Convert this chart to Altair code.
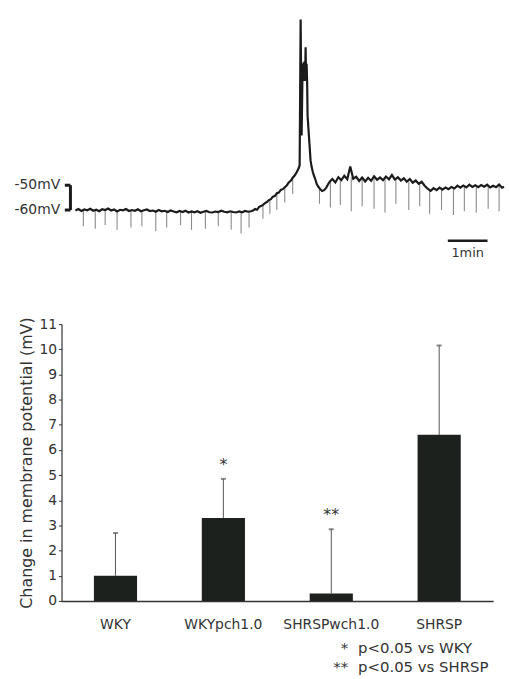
import altair as alt
import pandas as pd

# ---------------- recording trace (time in s, membrane potential in mV) ----------------
base_t = [0, 4.5, 9, 13.5, 18, 22.5, 27, 31.5, 36, 40.5, 45, 49.5, 54, 58.5, 63, 67.5, 72, 76.5, 81, 85.5,
          90, 94.5, 99, 103.5, 108, 112.5, 117, 121.5, 126, 130.5, 135, 139.5, 144, 148.5, 153, 157.5, 162,
          166.5, 171, 175.5, 180, 184.5, 189, 193.5, 198, 202.5, 207, 211.5, 216, 220.5, 225, 229.5, 234,
          238.5, 243, 247.5, 252, 256.5, 261, 265.5]
base_mv = [-60.2, -59.6, -60.4, -59.8, -60.1, -59.5, -60.3, -59.9, -60.5, -59.7,
           -60.0, -59.4, -60.2, -59.8, -60.6, -59.9, -60.1, -59.6, -60.4, -60.0,
           -60.3, -59.7, -60.5, -60.1, -59.8, -60.4, -60.2, -60.7, -60.0, -60.5,
           -60.3, -60.8, -60.2, -60.6, -60.9, -60.4, -60.8, -60.3, -61.0, -60.6,
           -60.9, -60.5, -61.1, -60.7, -60.4, -60.9, -61.0, -60.6, -60.8, -60.3,
           -60.7, -60.9, -60.5, -60.8, -61.0, -60.6, -60.9, -60.4, -60.7, -60.5]
rise_t = [268.5, 271.5, 274.5, 277.5, 280.5, 283.5, 286.5, 289.5, 292.5, 295.5, 298.5, 301.5, 304.5,
          307.5, 310.5, 313.5, 316.5, 319.5, 322.5, 325.5, 328.5, 331.5, 334.5, 337.5, 339]
rise_mv = [-60.2, -59.6, -59.9, -58.8, -58.4, -57.9, -57.2, -56.8, -56.0, -55.6, -54.6, -54.4, -53.2,
           -53.0, -51.9, -51.6, -50.8, -50.1, -48.9, -48.2, -47.0, -46.1, -44.8, -43.2, -42.0]
spike_t = [340.5, 342, 343.5, 344.3, 345, 345.8, 346.5, 347.3, 348, 348.8, 349.5, 350.3, 351, 352.5,
           354, 355.5, 357, 359, 361, 363, 365, 367, 369, 371, 373, 376, 379, 382, 385]
spike_mv = [16.8, -30, -1, -8, -0.5, -7.5, 0, -8, 5.6, -7, -1, -8, -22, -28,
            -34, -40, -42.5, -44.8, -46.4, -47.9, -49.6, -50.5, -51.2, -51.8, -52.3, -52.0, -51.1, -49.6, -48.4]
after_t = [388.5, 393, 397.5, 402, 406.5, 411, 415.5, 420, 424.5, 429, 433.5, 438, 442.5, 447, 451.5,
           456, 460.5, 465, 469.5, 474, 478.5, 483, 487.5, 492, 496.5, 501, 505.5, 510, 514.5, 519,
           523.5, 528, 532.5, 537, 541.5, 546, 550.5, 555, 559.5, 564, 568.5, 573, 577.5, 582, 586.5,
           591, 595.5, 600, 604.5, 609, 613.5, 618, 622.5, 627, 631.5, 636, 640.5, 645, 648]
after_mv = [-47.5, -48.9, -46.8, -47.9, -46.2, -47.6, -42.5, -47.4, -46.6, -48.3,
            -46.9, -48.5, -47.0, -48.2, -46.4, -47.8, -46.9, -48.0, -46.5, -47.6,
            -45.9, -47.7, -46.8, -48.1, -47.2, -48.6, -47.5, -49.0, -48.1, -49.4,
            -48.6, -50.2, -51.4, -52.3, -51.2, -52.0, -51.0, -51.8, -50.9, -51.6,
            -50.7, -51.3, -50.2, -51.0, -50.1, -50.9, -49.8, -50.7, -50.0, -50.8,
            -49.9, -50.6, -49.8, -50.9, -50.2, -50.8, -49.7, -51.0, -50.6]

# hyperpolarising test pulses (downward deflections)
pulse_t = [12, 30, 45, 63, 84, 100.5, 121.5, 138, 159, 175.5, 196.5, 216, 235.5, 250.5, 262.5,
           283.5, 294, 304.5, 316.5, 328.5,
           369, 385.5, 400.5, 417, 433.5, 451.5, 468, 484.5, 504, 520.5, 535.5, 553.5, 571.5, 588,
           606, 624, 640.5]
pulse_top = [-60, -60, -60, -60, -60, -60, -60, -60.2, -60.5, -60.5, -60.6, -60.8, -60.8, -60.6, -60.6,
             -57.9, -55.8, -53.2, -50.8, -47.0,
             -51.5, -48.2, -47.5, -46.8, -47.0, -47.2, -47.0, -47.4, -48.5, -49.2, -52.0, -51.2, -51.0,
             -50.5, -50.4, -50.3, -50.0]
pulse_bottom = [-66.5, -67.5, -66, -68, -67, -66.5, -68.5, -67, -66, -68, -67.5, -66.5, -68, -69.5, -67,
                -63.5, -61.5, -60, -57, -53.5,
                -57.5, -59, -58, -60.5, -58.5, -59.5, -61, -57.5, -60, -58.5, -61.5, -60, -62, -60.5,
                -61, -59.5, -60.5]

# scale bars
volt_bar_mv = [-50, -60]
volt_bar_labels = ["-50mV", "-60mV"]
volt_bar_t = -7.5
volt_bar_tick_t = -16
time_bar_start = 563
time_bar_end = 623
time_bar_mv = -72.4
time_bar_label = "1min"

# ---------------- bar chart ----------------
groups = ["WKY", "WKYpch1.0", "SHRSPwch1.0", "SHRSP"]
means = [1.0, 3.3, 0.3, 6.6]
err_top = [2.7, 4.85, 2.85, 10.15]
sig = ["", "*", "**", ""]
y_ticks = [0, 1, 2, 3, 4, 5, 6, 7, 8, 9, 10, 11]
note_stars = ["*", "**"]
note_texts = ["p<0.05 vs WKY", "p<0.05 vs SHRSP"]

FONT = "DejaVu Sans"
TXT = "#333333"

trace_df = pd.DataFrame({"t": base_t + rise_t + spike_t + after_t,
                         "mv": base_mv + rise_mv + spike_mv + after_mv})
pulse_df = pd.DataFrame({"t": pulse_t, "top": pulse_top, "bottom": pulse_bottom})
vb_df = pd.DataFrame({"mv": volt_bar_mv, "label": volt_bar_labels})

xs = alt.Scale(domain=[-21, 649.5], nice=False, zero=False)
ys = alt.Scale(domain=[-74, 18], nice=False, zero=False)

pulses = alt.Chart(pulse_df).mark_rule(color="#8a8a8a", strokeWidth=1.1).encode(
    x=alt.X("t:Q", scale=xs, axis=None),
    y=alt.Y("top:Q", scale=ys, axis=None),
    y2="bottom:Q",
)
trace = alt.Chart(trace_df).mark_line(color="#1b1b1b", strokeWidth=2.2).encode(
    x=alt.X("t:Q", scale=xs, axis=None),
    y=alt.Y("mv:Q", scale=ys, axis=None),
)
vbar = alt.Chart(pd.DataFrame({"a": [volt_bar_mv[0]], "b": [volt_bar_mv[1]]})).mark_rule(
    color="#1b1b1b", strokeWidth=3).encode(
    x=alt.datum(volt_bar_t), y=alt.Y("a:Q"), y2="b:Q")
vticks = alt.Chart(vb_df).mark_rule(color="#1b1b1b", strokeWidth=3).encode(
    x=alt.datum(volt_bar_tick_t), x2=alt.datum(volt_bar_t), y="mv:Q")
vlabels = alt.Chart(vb_df).mark_text(align="right", baseline="middle", font=FONT, fontSize=14,
                                     color=TXT).encode(
    x=alt.datum(-23), y="mv:Q", text="label:N")
tbar = alt.Chart(pd.DataFrame({"a": [time_bar_start], "b": [time_bar_end], "y": [time_bar_mv]})).mark_rule(
    color="#1b1b1b", strokeWidth=2.5).encode(x="a:Q", x2="b:Q", y="y:Q")
tlabel = alt.Chart(pd.DataFrame({"t": [(time_bar_start + time_bar_end) / 2], "y": [time_bar_mv],
                                 "label": [time_bar_label]})).mark_text(
    baseline="top", dy=6, font=FONT, fontSize=13, color=TXT).encode(x="t:Q", y="y:Q", text="label:N")

top = alt.layer(pulses, trace, vbar, vticks, vlabels, tbar, tlabel).properties(width=447, height=230)

bar_df = pd.DataFrame({"group": groups, "mean": means, "err": err_top, "sig": sig})
yscale = alt.Scale(domain=[0, 11], nice=False)
xscale = alt.Scale(paddingInner=0.6, paddingOuter=0.3)
xaxis = alt.Axis(title=None, labelAngle=0, ticks=False, domainColor=TXT, domainWidth=1.4,
                 labelFont=FONT, labelFontSize=14, labelColor=TXT, labelPadding=17)
yaxis = alt.Axis(values=y_ticks, title="Change in membrane potential (mV)",
                 grid=False, labelOverlap=False, labelFont=FONT, labelFontSize=14,
                 labelColor=TXT, labelPadding=2, tickSize=3, tickColor=TXT, domainColor=TXT,
                 domainWidth=1.2, titleFont=FONT, titleFontSize=16, titleFontWeight="normal",
                 titleColor=TXT, titlePadding=4)
xb = alt.X("group:N", sort=groups, scale=xscale, axis=xaxis)

base = alt.Chart(bar_df)
bars = base.mark_bar(color="#1c211e").encode(
    x=xb, y=alt.Y("mean:Q", scale=yscale, axis=yaxis))
errs = base.mark_rule(color="#555555", strokeWidth=1).encode(
    x=xb, y=alt.Y("mean:Q", scale=yscale, axis=yaxis), y2="err:Q")
caps = base.mark_tick(color="#555555", size=5, thickness=2).encode(
    x=xb, y=alt.Y("err:Q", scale=yscale, axis=yaxis))
stars = base.mark_text(dy=-14, font=FONT, fontSize=16, color=TXT, baseline="middle").encode(
    x=xb, y=alt.Y("err:Q", scale=yscale, axis=yaxis), text="sig:N")

note_layers = []
for i, (s, t) in enumerate(zip(note_stars, note_texts)):
    ypix = 326 + 20 * i
    note_layers.append(alt.Chart(pd.DataFrame({"s": [s]})).mark_text(
        align="right", baseline="middle", dx=17, font=FONT, fontSize=15, color=TXT).encode(
        x=alt.datum("SHRSPwch1.0"), y=alt.value(ypix), text="s:N"))
    note_layers.append(alt.Chart(pd.DataFrame({"s": [t]})).mark_text(
        align="left", baseline="middle", dx=27, font=FONT, fontSize=15, color=TXT).encode(
        x=alt.datum("SHRSPwch1.0"), y=alt.value(ypix), text="s:N"))

bottom = alt.layer(bars, errs, caps, stars, *note_layers).properties(width=435, height=279)

chart = alt.vconcat(top, bottom, spacing=80, bounds="flush").properties(
    padding={"left": 14, "top": 12, "right": 0, "bottom": 2}
).configure_view(stroke=None)

chart.save("out.html", embed_options={"renderer": "svg", "actions": False})
